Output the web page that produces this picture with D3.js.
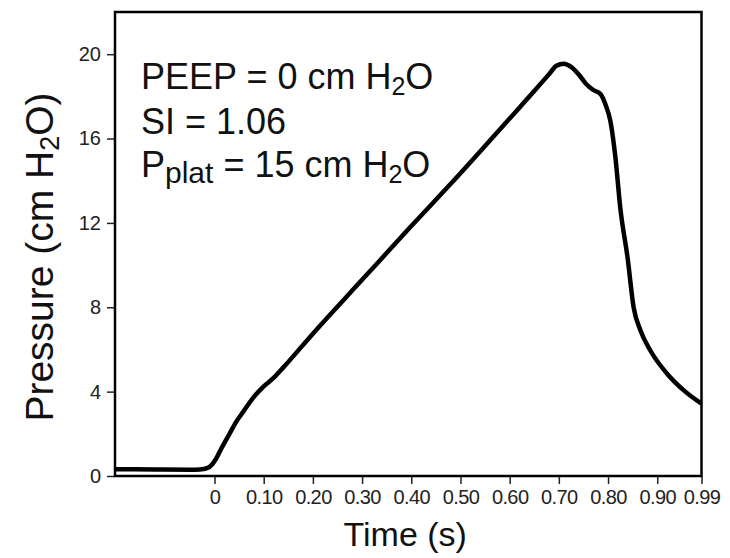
<!DOCTYPE html>
<html>
<head>
<meta charset="utf-8">
<script src="https://d3js.org/d3.v7.min.js"></script>
<style>
  body { margin: 0; background: #fff; }
  svg { display: block; font-family: "Liberation Sans", Arial, sans-serif; }
</style>
</head>
<body>
<svg id="vis" width="730" height="558"></svg>
<script>
    // pressure trace, values (s, cm H2O)
    var time = [-0.2023, -0.12, -0.05, -0.03, -0.015, -0.005, 0.005, 0.015, 0.03, 0.045,
                0.06, 0.08, 0.10, 0.12, 0.14, 0.20, 0.30, 0.40, 0.50, 0.60,
                0.65, 0.68, 0.695, 0.71, 0.725, 0.74, 0.755, 0.77, 0.785, 0.795,
                0.805, 0.815, 0.825, 0.84, 0.852, 0.866, 0.886, 0.92, 0.954, 0.99];
    var pressure = [0.32, 0.31, 0.30, 0.31, 0.37, 0.55, 0.9, 1.35, 1.98, 2.6,
                    3.1, 3.75, 4.25, 4.65, 5.15, 6.75, 9.3, 11.85, 14.35, 16.95,
                    18.25, 19.05, 19.45, 19.55, 19.4, 19.05, 18.6, 18.3, 18.1, 17.6,
                    16.8, 15.1, 12.7, 10.3, 8.0, 6.9, 5.95, 4.85, 4.06, 3.43];

    var xTicks = [0, 0.1, 0.2, 0.3, 0.4, 0.5, 0.6, 0.7, 0.8, 0.9, 0.99];
    var xTickLabels = ["0", "0.10", "0.20", "0.30", "0.40", "0.50", "0.60", "0.70", "0.80", "0.90", "0.99"];
    var yTicks = [0, 4, 8, 12, 16, 20];

    // annotation lines: [text, subscript?]
    var notes = [
        [["PEEP = 0 cm H", false], ["2", true], ["O", false]],
        [["SI = 1.06", false]],
        [["P", false], ["plat", true], [" = 15 cm H", false], ["2", true], ["O", false]]
    ];

    var margin = {top: 12, right: 28.5, bottom: 82, left: 115};
    var width = 730 - margin.left - margin.right,
        height = 558 - margin.top - margin.bottom;

    var svg = d3.select("#vis")
      .append("g")
        .attr("transform", "translate(" + margin.left + "," + margin.top + ")");

    var x = d3.scaleLinear()
        .domain([-0.2023, 0.99])
        .range([0, width]);

    var y = d3.scaleLinear()
        .domain([0, 22])
        .range([height, 0]);

    // X axis
    var xAxis = svg.append("g")
        .attr("transform", "translate(0," + height + ")")
        .call(d3.axisBottom(x)
            .tickValues(xTicks)
            .tickFormat(function(d, i) { return xTickLabels[i]; })
            .tickSize(8)
            .tickPadding(6));
    xAxis.select(".domain").remove();
    xAxis.selectAll("line").attr("stroke", "#222").attr("stroke-width", 1.5);
    xAxis.selectAll("text").style("font-size", "20px").attr("fill", "#222")
        .style("font-family", "Liberation Sans, Arial, sans-serif")
        .attr("letter-spacing", -0.6);

    // Y axis
    var yAxis = svg.append("g")
        .call(d3.axisLeft(y)
            .tickValues(yTicks)
            .tickSize(8)
            .tickPadding(6));
    yAxis.select(".domain").remove();
    yAxis.selectAll("line").attr("stroke", "#222").attr("stroke-width", 1.5);
    yAxis.selectAll("text").style("font-size", "20px").attr("fill", "#222")
        .style("font-family", "Liberation Sans, Arial, sans-serif");

    // frame
    svg.append("rect")
        .attr("x", 0)
        .attr("y", 0)
        .attr("width", width)
        .attr("height", height)
        .attr("fill", "none")
        .attr("stroke", "#000")
        .attr("stroke-width", 2.5);

    // pressure curve
    var line = d3.line()
        .x(function(d, i) { return x(time[i]); })
        .y(function(d) { return y(d); })
        .curve(d3.curveMonotoneX);

    svg.append("path")
        .datum(pressure)
        .attr("fill", "none")
        .attr("stroke", "#000")
        .attr("stroke-width", 4.5)
        .attr("stroke-linejoin", "round")
        .attr("d", line);

    // annotations
    var baselines = [77, 122, 165];
    notes.forEach(function(parts, i) {
        var t = svg.append("text")
            .attr("x", 26)
            .attr("y", baselines[i])
            .attr("font-size", 36)
            .attr("fill", "#111");
        var shift = 0;
        parts.forEach(function(p) {
            var target = p[1] ? 6 : 0;
            t.append("tspan")
                .attr("font-size", p[1] ? (p[0] === "plat" ? 30 : 25) : 36)
                .attr("dy", target - shift)
                .text(p[0]);
            shift = target;
        });
    });

    // axis titles
    svg.append("text")
        .attr("x", width / 2 - 3)
        .attr("y", height + 70)
        .attr("text-anchor", "middle")
        .attr("font-size", 34)
        .attr("fill", "#111")
        .text("Time (s)");

    var yt = svg.append("text")
        .attr("transform", "translate(" + (53 - margin.left) + "," + (257 - margin.top) + ") rotate(-90)")
        .attr("text-anchor", "middle")
        .attr("font-size", 39)
        .attr("fill", "#111");
    yt.append("tspan").text("Pressure (cm H");
    yt.append("tspan").attr("font-size", 27).attr("dy", 6).text("2");
    yt.append("tspan").attr("dy", -6).text("O)");
</script>
</body>
</html>
